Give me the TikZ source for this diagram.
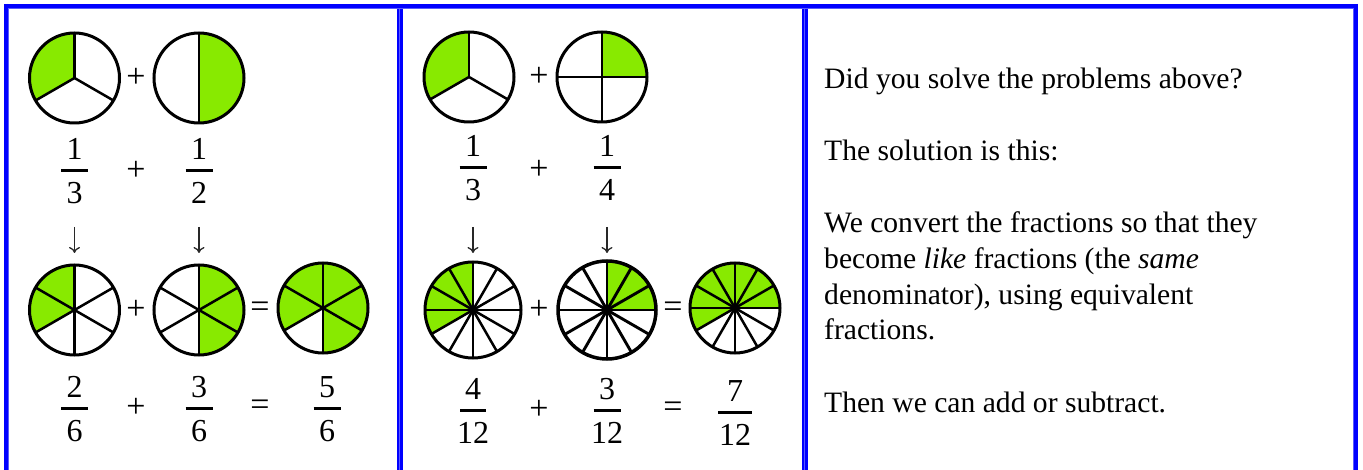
\documentclass[tikz,border=0pt]{standalone}
\usepackage{fontspec}
\setmainfont{Liberation Serif}
\usetikzlibrary{positioning,arrows.meta}
\definecolor{lime}{RGB}{136,234,0}
\definecolor{rule}{RGB}{0,0,255}
\definecolor{rulelight}{RGB}{90,90,255}
\definecolor{ink}{RGB}{40,40,40}
% pie: centre, radius, parts, green from, green to
\newcommand{\pie}[5]{%
  \fill[lime] (#1) -- ++(#4:#2) arc[start angle=#4,end angle=#5,radius=#2] -- cycle;
  \foreach \k in {1,...,#3} \draw[spoke] (#1) -- ++({90+360*\k/#3}:#2);
  \draw[rim] (#1) circle[radius=#2];}
% fraction: name, x, bar y, numerator, denominator, bar length
\newcommand{\frc}[6]{%
  \node[dig,anchor=base] (#1n) at (#2,#3+11) {#4};
  \node[dig,anchor=base] (#1d) at (#2,#3-33) {#5};
  \draw[bar] (#2-#6/2,#3) -- (#2+#6/2,#3);}
\begin{document}
\begin{tikzpicture}[x=1pt,y=1pt,
  txt/.style={inner sep=0pt,font=\fontsize{29.6}{35.7}\selectfont},
  dig/.style={inner sep=0pt,font=\fontsize{32}{36}\selectfont},
  op/.style={inner sep=0pt,font=\fontsize{34}{36}\selectfont},
  down/.style={ink,line width=1.3pt,-{To[length=6pt,width=11pt]}},
  spoke/.style={line width=2.5pt},
  rim/.style={line width=3pt},
  bar/.style={line width=3pt},
  frame/.style={rule,line width=4pt},
  framein/.style={rulelight,line width=0.8pt}]
  \useasboundingbox (0,0) rectangle (1363,-470);
  % table rules
  \draw[frame] (4,-6) -- (1358,-6);
  \draw[frame] (6,-4) -- (6,-470);
  \draw[frame,line width=5.5pt] (400,-4) -- (400,-470);
  \draw[frame,line width=5.5pt] (805,-4) -- (805,-470);
  \draw[frame] (1356,-4) -- (1356,-470);
  \draw[framein] (8.4,-8.4) -- (1353.6,-8.4);
  \draw[framein] (8.4,-8.4) -- (8.4,-470);
  \draw[framein] (399.8,-8.4) -- (399.8,-470);
  \draw[framein] (804.8,-8.4) -- (804.8,-470);
  \draw[framein] (1353.6,-8.4) -- (1353.6,-470);
  % left panel
  \coordinate (lthird) at (74.5,-78);
  \coordinate (lhalf) at (199,-78);
  \coordinate (lsixa) at (74.5,-310);
  \coordinate (lsixb) at (199,-310);
  \coordinate (lsixc) at (323,-308);
  \pie{lthird}{45}{3}{90}{210}
  \pie{lhalf}{45}{2}{-90}{90}
  \pie{lsixa}{45}{6}{90}{210}
  \pie{lsixb}{45}{6}{-90}{90}
  \pie{lsixc}{45}{6}{-90}{210}
  \node[op] (lplus1) at (136,-78) {+};
  \node[op] (lplus2) at (136,-310) {+};
  \node[op] (leq1) at (260,-310) {=};
  \frc{lf1}{74.5}{-171}{1}{3}{27}
  \frc{lf2}{199}{-171}{1}{2}{27}
  \node[op] (lplus3) at (136,-171) {+};
  \coordinate (ldown1) at (74.5,-227);
  \coordinate (ldown1e) at (74.5,-253);
  \coordinate (ldown2) at (199,-227);
  \coordinate (ldown2e) at (199,-253);
  \draw[down] (ldown1) -- (ldown1e);
  \draw[down] (ldown2) -- (ldown2e);
  \frc{lf3}{74.5}{-408}{2}{6}{27}
  \frc{lf4}{199}{-408}{3}{6}{27}
  \frc{lf5}{327}{-408}{5}{6}{27}
  \node[op] (lplus4) at (136,-408) {+};
  \node[op] (leq2) at (260,-408) {=};
  % middle panel
  \coordinate (mthird) at (469,-77);
  \coordinate (mquarter) at (602,-77);
  \coordinate (mtwa) at (473,-310);
  \coordinate (mtwb) at (607,-310);
  \coordinate (mtwc) at (735,-308);
  \pie{mthird}{45}{3}{90}{210}
  \pie{mquarter}{45}{4}{0}{90}
  \pie{mtwa}{48}{12}{90}{210}
  \begin{scope}[spoke/.style={line width=2.9pt},rim/.style={line width=3.5pt}]
    \pie{mtwb}{49}{12}{0}{90}
  \end{scope}
  \pie{mtwc}{45}{12}{0}{210}
  \fill (mtwa) circle[radius=4];
  \fill (mtwb) circle[radius=4.5];
  \fill (mtwc) circle[radius=4];
  \node[op] (mplus1) at (539,-77) {+};
  \node[op] (mplus2) at (539,-310) {+};
  \node[op] (meq1) at (673,-310) {=};
  \frc{mf1}{473}{-168}{1}{3}{27}
  \frc{mf2}{607}{-168}{1}{4}{27}
  \node[op] (mplus3) at (539,-170) {+};
  \coordinate (mdown1) at (473,-227);
  \coordinate (mdown1e) at (473,-253);
  \coordinate (mdown2) at (607,-227);
  \coordinate (mdown2e) at (607,-253);
  \draw[down] (mdown1) -- (mdown1e);
  \draw[down] (mdown2) -- (mdown2e);
  \frc{mf3}{473}{-410}{4}{12}{26}
  \frc{mf4}{607}{-410}{3}{12}{27}
  \frc{mf5}{735}{-412}{7}{12}{34}
  \node[op] (mplus4) at (539,-410) {+};
  \node[op] (meq2) at (673,-410) {=};
  % right panel text
  \node[txt,anchor=base west] (t1) at (824,-89) {Did you solve the problems above?};
  \node[txt,anchor=base west] (t2) at (824,-161) {The solution is this:};
  \node[txt,anchor=base west] (t3) at (824,-233) {We convert the fractions so that they};
  \node[txt,anchor=base west] (t4) at (824,-268.7) {become \textit{like} fractions (the \textit{same}};
  \node[txt,anchor=base west] (t5) at (824,-304.4) {denominator), using equivalent};
  \node[txt,anchor=base west] (t6) at (824,-340) {fractions.};
  \node[txt,anchor=base west] (t7) at (824,-412) {Then we can add or subtract.};
\end{tikzpicture}
\end{document}
